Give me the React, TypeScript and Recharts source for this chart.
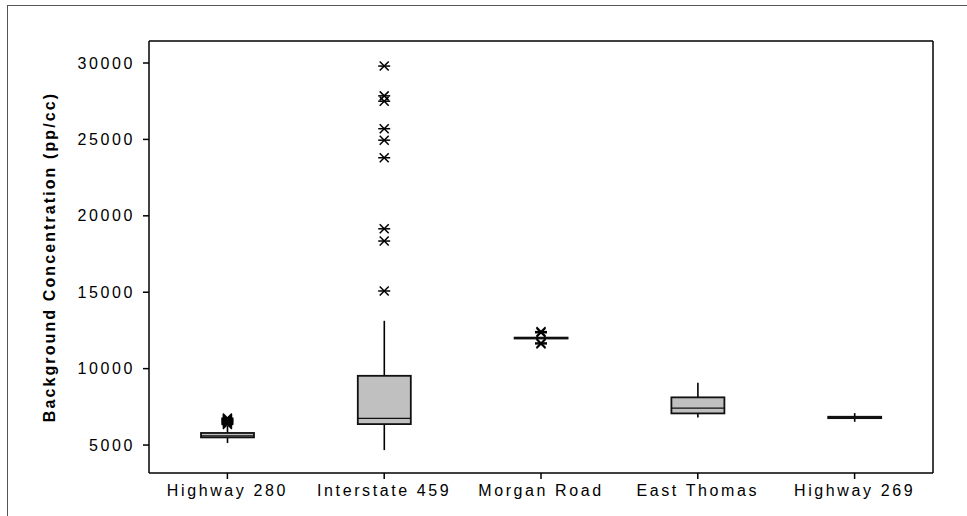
import React from 'react';
import {
  ComposedChart,
  Bar,
  Scatter,
  XAxis,
  YAxis,
  Label
} from 'recharts';

// sites along the x axis
const sites = ['Highway 280', 'Interstate 459', 'Morgan Road', 'East Thomas', 'Highway 269'];

// box plot statistics (pp/cc)
const whiskerLow = [5130, 4670, 11960, 6810, 6520];
const q1 = [5500, 6370, 11970, 7070, 6760];
const median = [5600, 6750, 12000, 7420, 6800];
const q3 = [5790, 9530, 12030, 8120, 6850];
const whiskerHigh = [6250, 13130, 12040, 9080, 7090];

// outliers drawn as asterisks
const outlierH280 = [6350, 6420, 6480, 6540, 6600, 6650, 6700, 6760];
const outlierI459 = [29800, 27850, 27500, 25700, 24950, 23800, 19150, 18350, 15080];
const outlierMorgan = [12350, 12420, 11680, 11620];

const yTicks = [5000, 10000, 15000, 20000, 25000, 30000];
const yDomain = [3170, 31440];

const boxData = sites.map((name, i) => ({
  name,
  range: [whiskerLow[i], whiskerHigh[i]],
  lo: whiskerLow[i],
  hi: whiskerHigh[i],
  q1: q1[i],
  median: median[i],
  q3: q3[i]
}));

const outlierData = [
  ...outlierH280.map((value) => ({ name: sites[0], value })),
  ...outlierI459.map((value) => ({ name: sites[1], value })),
  ...outlierMorgan.map((value) => ({ name: sites[2], value }))
];

const FONT = 'Arial, "Liberation Sans", Helvetica, sans-serif';

const BoxShape = (props: any) => {
  const { x, y, width, height, payload } = props;
  if (x == null || y == null) return null;
  const { lo, hi } = payload;
  // whisker bar spans [lo, hi]; map other stats linearly inside it
  const py = (v: number) => y + ((hi - v) / (hi - lo)) * height;
  const cx = x + width / 2;
  const top = py(payload.q3);
  const bottom = py(payload.q1);
  const med = py(payload.median);
  return (
    <g>
      <line x1={cx} x2={cx} y1={y} y2={y + height} stroke="#000" strokeWidth={1.6} />
      <rect
        x={x}
        y={top}
        width={width}
        height={Math.max(bottom - top, 0.5)}
        fill="#c0c0c0"
        stroke="#111"
        strokeWidth={1.8}
      />
      <line x1={x} x2={x + width} y1={med} y2={med} stroke="#111" strokeWidth={1.3} />
    </g>
  );
};

const Asterisk = (props: any) => {
  const { cx, cy } = props;
  if (cx == null || cy == null) return null;
  return (
    <g stroke="#000" strokeWidth={1.5}>
      <line x1={cx - 6} x2={cx + 6} y1={cy} y2={cy} />
      <line x1={cx - 4.5} x2={cx + 4.5} y1={cy - 4.5} y2={cy + 4.5} />
      <line x1={cx - 4.5} x2={cx + 4.5} y1={cy + 4.5} y2={cy - 4.5} />
    </g>
  );
};

const Nothing = () => <g />;

const tickStyle = { fill: '#000', fontSize: 16, fontFamily: FONT, letterSpacing: 2.6 };

export default function App() {
  return (
    <div style={{ position: 'absolute', left: 0, top: 0, width: 967, height: 516, background: '#fff' }}>
      {/* outer frame */}
      <div
        style={{
          position: 'absolute',
          left: 7,
          top: 5,
          width: 960,
          height: 511,
          borderTop: '1.5px solid #555',
          borderLeft: '1.5px solid #555',
          boxSizing: 'border-box'
        }}
      />
      <div style={{ position: 'absolute', left: 0, top: 0 }}>
        <ComposedChart
          width={967}
          height={516}
          data={boxData}
          margin={{ top: 40, right: 33, bottom: 0, left: 0 }}
        >
          <XAxis
            dataKey="name"
            allowDuplicatedCategory={false}
            height={43}
            stroke="#000"
            strokeWidth={1.5}
            tickSize={6}
            tick={tickStyle}
            tickMargin={6}
            interval={0}
          />
          <XAxis
            xAxisId="top"
            dataKey="name"
            orientation="top"
            allowDuplicatedCategory={false}
            height={1}
            stroke="#000"
            strokeWidth={1.5}
            tick={false}
            tickLine={false}
          />
          <YAxis
            type="number"
            domain={yDomain}
            ticks={yTicks}
            width={149}
            stroke="#000"
            strokeWidth={1.5}
            tickSize={6}
            tick={tickStyle}
            tickMargin={8}
          >
            <Label
              value="Background Concentration (pp/cc)"
              angle={-90}
              position="insideLeft"
              offset={49}
              style={{ fontFamily: FONT, fontSize: 16, fontWeight: 'bold', fill: '#000', letterSpacing: 2.1, textAnchor: 'middle' }}
            />
          </YAxis>
          <YAxis
            yAxisId="right"
            orientation="right"
            type="number"
            domain={yDomain}
            width={1}
            stroke="#000"
            strokeWidth={1.5}
            tick={false}
            tickLine={false}
          />
          {/* invisible series so the top and right frame axes get drawn */}
          <Scatter
            data={boxData}
            dataKey="median"
            xAxisId="top"
            yAxisId="right"
            shape={<Nothing />}
            isAnimationActive={false}
          />
          <Bar
            dataKey="range"
            barSize={53}
            shape={<BoxShape />}
            isAnimationActive={false}
          />
          <Scatter
            data={outlierData}
            dataKey="value"
            shape={<Asterisk />}
            isAnimationActive={false}
          />
        </ComposedChart>
      </div>
    </div>
  );
}
